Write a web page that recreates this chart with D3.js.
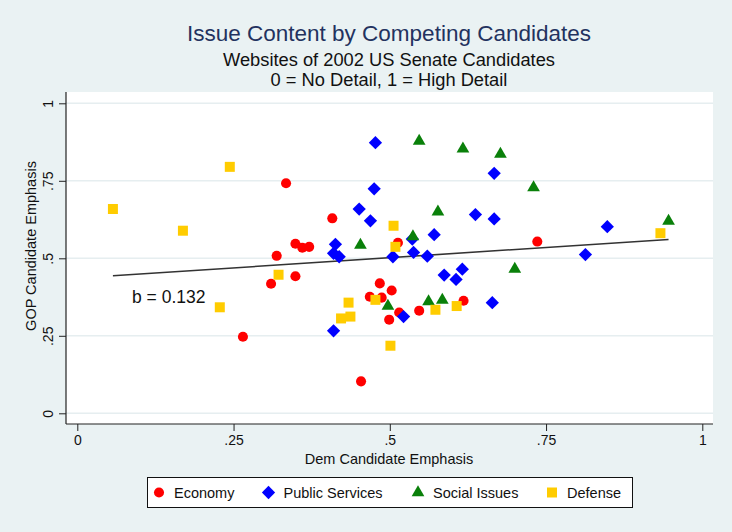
<!DOCTYPE html>
<html>
<head>
<meta charset="utf-8">
<script src="https://cdn.jsdelivr.net/npm/d3@7"></script>
<style>
  html, body { margin: 0; padding: 0; background: #eaf2f3; }
  svg { display: block; font-family: "Liberation Sans", Arial, Helvetica, sans-serif; }
</style>
</head>
<body>
<svg id="chart" width="732" height="532"></svg>
<script>
// Issue emphasis scores (Dem x, GOP y) by issue area
const economy = [
  [0.334, 0.742], [0.349, 0.547], [0.360, 0.534], [0.371, 0.537], [0.319, 0.508],
  [0.349, 0.442], [0.310, 0.418], [0.265, 0.247], [0.408, 0.629], [0.513, 0.550],
  [0.484, 0.419], [0.503, 0.396], [0.468, 0.376], [0.487, 0.373], [0.515, 0.325],
  [0.499, 0.302], [0.547, 0.331], [0.618, 0.363], [0.454, 0.103], [0.736, 0.554]
];
const publicServices = [
  [0.477, 0.873], [0.667, 0.774], [0.475, 0.724], [0.451, 0.659], [0.637, 0.641],
  [0.667, 0.627], [0.469, 0.621], [0.571, 0.576], [0.536, 0.562], [0.413, 0.545],
  [0.410, 0.516], [0.419, 0.505], [0.505, 0.505], [0.538, 0.519], [0.560, 0.507],
  [0.616, 0.465], [0.587, 0.446], [0.606, 0.432], [0.522, 0.312], [0.664, 0.357],
  [0.410, 0.266], [0.848, 0.602], [0.813, 0.512]
];
const socialIssues = [
  [0.547, 0.878], [0.617, 0.853], [0.677, 0.836], [0.730, 0.728], [0.577, 0.650],
  [0.537, 0.570], [0.453, 0.543], [0.497, 0.346], [0.562, 0.360], [0.584, 0.365],
  [0.700, 0.465], [0.946, 0.620]
];
const defense = [
  [0.244, 0.795], [0.057, 0.659], [0.169, 0.589], [0.322, 0.447], [0.228, 0.342],
  [0.506, 0.605], [0.509, 0.537], [0.477, 0.366], [0.434, 0.357], [0.422, 0.306],
  [0.437, 0.312], [0.573, 0.334], [0.607, 0.346], [0.501, 0.218], [0.933, 0.581]
];

const seriesNames = ["Economy", "Public Services", "Social Issues", "Defense"];
const seriesColors = ["#ff0000", "#0000ff", "#0a800a", "#ffcc00"];
// diamonds are squares turned by 45 degrees
const seriesShapes = [d3.symbolCircle, d3.symbolSquare, d3.symbolTriangle, d3.symbolSquare];
const seriesRotation = [0, 45, 0, 0];
const seriesSizes = [80, 88, 70, 100];

const xTicks = [0, 0.25, 0.5, 0.75, 1];
const yTicks = [0, 0.25, 0.5, 0.75, 1];
const xTickLabels = ["0", ".25", ".5", ".75", "1"];
const yTickLabels = ["0", ".25", ".5", ".75", "1"];

// Linear fit of GOP emphasis on Dem emphasis
const fitSlope = 0.132;
const fitIntercept = 0.436;

const svg = d3.select("#chart");
const W = 732, H = 532;
const plot = { left: 66, right: 713, top: 92, bottom: 424 };

const x = d3.scaleLinear().domain([0, 1]).range([77.3, 702.3]);
const y = d3.scaleLinear().domain([0, 1]).range([413.3, 103.3]);

svg.append("rect").attr("width", W).attr("height", H).attr("fill", "#eaf2f3");
svg.append("rect")
  .attr("x", plot.left).attr("y", plot.top)
  .attr("width", plot.right - plot.left).attr("height", plot.bottom - plot.top)
  .attr("fill", "#ffffff");

// horizontal grid
svg.append("g").selectAll("line").data(yTicks).join("line")
  .attr("x1", plot.left).attr("x2", plot.right)
  .attr("y1", d => y(d)).attr("y2", d => y(d))
  .attr("stroke", "#e6eef0").attr("stroke-width", 1.5);

// titles
svg.append("text").attr("x", 389).attr("y", 41).attr("text-anchor", "middle")
  .attr("font-size", 22.5).attr("fill", "#23325f")
  .text("Issue Content by Competing Candidates");
svg.append("text").attr("x", 389).attr("y", 66).attr("text-anchor", "middle")
  .attr("font-size", 18.3).attr("fill", "#111")
  .text("Websites of 2002 US Senate Candidates");
svg.append("text").attr("x", 389).attr("y", 85.5).attr("text-anchor", "middle")
  .attr("font-size", 18.3).attr("fill", "#111")
  .text("0 = No Detail, 1 = High Detail");

// x axis
const xAxis = d3.axisBottom(x).tickValues(xTicks)
  .tickFormat((d, i) => xTickLabels[i]).tickSize(7).tickPadding(4).tickSizeOuter(0);
const gx = svg.append("g").attr("transform", `translate(0,${plot.bottom})`).call(xAxis);
gx.select(".domain").remove();
gx.selectAll(".tick line").attr("stroke", "#222");
gx.selectAll(".tick text").attr("font-size", 14).attr("fill", "#111")
  .attr("font-family", "Liberation Sans, Arial, sans-serif");
svg.append("line").attr("x1", plot.left).attr("x2", plot.right)
  .attr("y1", plot.bottom).attr("y2", plot.bottom).attr("stroke", "#222").attr("stroke-width", 1.2);

// y axis
const yAxis = d3.axisLeft(y).tickValues(yTicks)
  .tickFormat((d, i) => yTickLabels[i]).tickSize(7).tickSizeOuter(0);
const gy = svg.append("g").attr("transform", `translate(${plot.left},0)`).call(yAxis);
gy.select(".domain").remove();
gy.selectAll(".tick line").attr("stroke", "#222");
gy.selectAll(".tick text")
  .attr("font-size", 14).attr("fill", "#111")
  .attr("font-family", "Liberation Sans, Arial, sans-serif")
  .attr("text-anchor", "middle").attr("dy", null).attr("x", null)
  .attr("transform", "translate(-13,0) rotate(-90)")
  .attr("dominant-baseline", "auto").attr("y", 0);
svg.append("line").attr("x1", plot.left).attr("x2", plot.left)
  .attr("y1", plot.top).attr("y2", plot.bottom).attr("stroke", "#222").attr("stroke-width", 1.2);

// axis titles
svg.append("text").attr("x", 389).attr("y", 464).attr("text-anchor", "middle")
  .attr("font-size", 14.5).attr("fill", "#111").text("Dem Candidate Emphasis");
svg.append("text").attr("transform", "translate(36,246) rotate(-90)").attr("text-anchor", "middle")
  .attr("font-size", 14.5).attr("fill", "#111").text("GOP Candidate Emphasis");

// fitted line over the observed Dem range
const allPoints = [].concat(economy, publicServices, socialIssues, defense);
const xExt = d3.extent(allPoints, d => d[0]);
const fitLine = d3.line().x(d => x(d)).y(d => y(fitIntercept + fitSlope * d));
svg.append("path").datum(xExt).attr("d", fitLine)
  .attr("fill", "none").attr("stroke", "#333").attr("stroke-width", 1.6);

svg.append("text").attr("x", 132).attr("y", 303).attr("font-size", 17.5).attr("fill", "#111")
  .text("b = " + fitSlope.toFixed(3));

// markers
const allSeries = [economy, publicServices, socialIssues, defense];
allSeries.forEach((data, i) => {
  const sym = d3.symbol().type(seriesShapes[i]).size(seriesSizes[i]);
  svg.append("g").selectAll("path").data(data).join("path")
    .attr("d", sym)
    .attr("transform", d => `translate(${x(d[0])},${y(d[1])}) rotate(${seriesRotation[i]})`)
    .attr("fill", seriesColors[i]);
});

// legend
const legend = svg.append("g");
legend.append("rect").attr("x", 147.5).attr("y", 477.5).attr("width", 485).attr("height", 30)
  .attr("fill", "#fff").attr("stroke", "#111").attr("stroke-width", 1);
const legendX = [159, 268.5, 418, 552];
seriesNames.forEach((name, i) => {
  const sym = d3.symbol().type(seriesShapes[i]).size(seriesSizes[i]);
  legend.append("path").attr("d", sym)
    .attr("transform", `translate(${legendX[i]},${492.5}) rotate(${seriesRotation[i]})`)
    .attr("fill", seriesColors[i]);
  legend.append("text").attr("x", legendX[i] + 15).attr("y", 497.5)
    .attr("font-size", 14.5).attr("fill", "#111").text(name);
});
</script>
</body>
</html>
